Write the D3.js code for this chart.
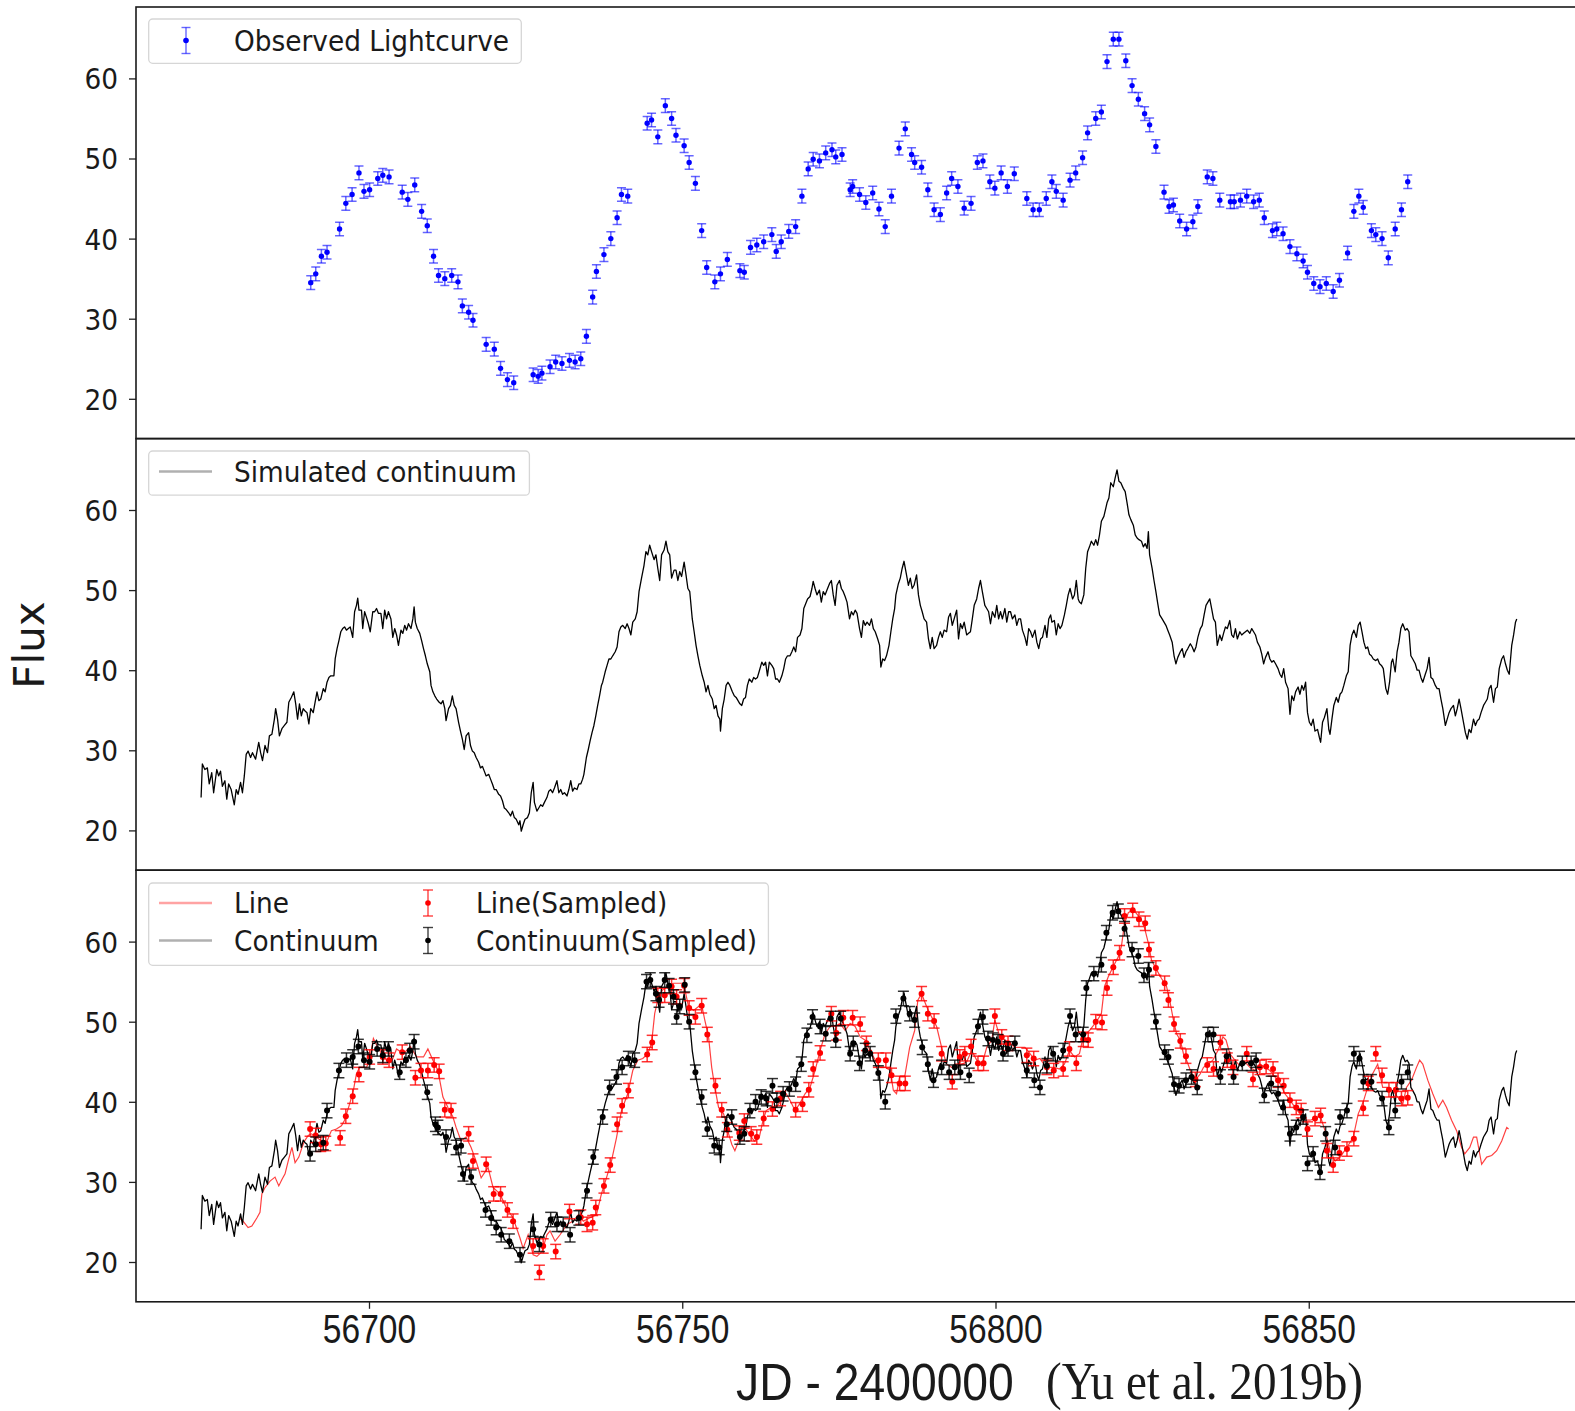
<!DOCTYPE html>
<html lang="en">
<head>
<meta charset="UTF-8">
<title>Observed and simulated lightcurves</title>
<script src="https://d3js.org/d3.v7.min.js"></script>
<style>
  body { margin: 0; background: #fff; }
  svg text { font-family: "DejaVu Sans", sans-serif; fill: #1a1a1a; }
</style>
</head>
<body>
<svg id="chart" width="1575" height="1411"></svg>
<script>
// ---- data (day = JD - 2400000) ----
const observed = [[56690.7,34.5],[56691.5,35.6],[56692.4,37.8],[56693.3,38.3],[56695.3,41.2],[56696.3,44.4],[56697.3,45.5],[56698.4,48.2],[56699.2,45.9],[56700.1,46.1],[56701.4,47.5],[56702.2,47.9],[56703.2,47.7],[56705.3,45.8],[56706.2,44.9],[56707.3,46.7],[56708.4,43.4],[56709.3,41.6],[56710.3,37.8],[56711.1,35.4],[56712.1,35.0],[56713.2,35.4],[56714.2,34.6],[56714.9,31.6],[56715.9,30.8],[56716.6,29.8],[56718.7,26.8],[56720.0,26.2],[56721.0,23.8],[56722.1,22.4],[56723.1,22.0],[56726.2,23.0],[56727.0,22.8],[56727.6,23.2],[56728.9,24.0],[56729.8,24.6],[56730.8,24.4],[56732.0,24.8],[56732.9,24.6],[56733.8,25.0],[56734.7,27.8],[56735.7,32.7],[56736.3,35.9],[56737.5,38.0],[56738.6,40.0],[56739.6,42.6],[56740.3,45.5],[56741.3,45.3],[56744.4,54.4],[56745.1,54.8],[56746.1,52.7],[56747.3,56.6],[56748.3,55.0],[56749.0,52.9],[56750.3,51.6],[56751.1,49.5],[56752.1,46.9],[56753.1,41.0],[56753.9,36.4],[56755.2,34.6],[56756.1,35.6],[56757.2,37.4],[56759.2,36.0],[56759.9,35.8],[56760.9,38.9],[56761.9,39.2],[56763.0,39.6],[56764.3,40.5],[56765.0,38.4],[56765.8,39.6],[56767.0,40.9],[56768.1,41.5],[56769.1,45.3],[56770.1,48.7],[56770.9,49.9],[56771.9,49.7],[56772.9,50.7],[56773.9,51.1],[56774.5,50.2],[56775.5,50.5],[56776.8,46.1],[56777.2,46.5],[56778.3,45.5],[56779.3,44.5],[56780.4,45.7],[56781.4,43.7],[56782.4,41.5],[56783.4,45.3],[56784.6,51.3],[56785.6,53.7],[56786.6,50.5],[56787.1,49.5],[56788.2,48.9],[56789.2,46.1],[56790.2,43.6],[56791.2,43.0],[56792.2,45.7],[56793.0,47.5],[56794.0,46.5],[56795.0,43.8],[56796.1,44.4],[56797.1,49.5],[56798.0,49.7],[56799.1,47.1],[56799.9,46.3],[56800.9,48.2],[56801.9,46.5],[56803.0,48.1],[56805.0,45.0],[56806.0,43.6],[56807.0,43.6],[56808.1,45.0],[56809.0,47.1],[56809.7,45.9],[56810.8,44.8],[56811.9,47.3],[56812.8,48.2],[56813.9,50.1],[56814.7,53.2],[56816.0,55.0],[56816.9,55.8],[56817.8,62.1],[56818.8,64.9],[56819.7,64.9],[56820.8,62.2],[56821.8,59.1],[56822.8,57.4],[56823.8,55.6],[56824.6,54.2],[56825.6,51.5],[56826.9,45.8],[56827.7,44.0],[56828.4,44.2],[56829.4,42.2],[56830.5,41.2],[56831.5,42.1],[56832.3,44.0],[56833.8,47.7],[56834.7,47.5],[56835.8,44.8],[56837.5,44.6],[56838.1,44.6],[56839.1,44.8],[56840.1,45.3],[56841.2,44.6],[56842.1,44.8],[56842.9,42.6],[56844.2,41.0],[56844.9,41.2],[56845.9,40.6],[56847.0,39.0],[56848.1,38.1],[56849.1,37.2],[56849.8,35.8],[56850.8,34.4],[56851.8,34.0],[56852.8,34.4],[56853.9,33.4],[56854.9,34.8],[56856.2,38.2],[56857.2,43.4],[56858.0,45.3],[56858.7,43.9],[56860.0,41.0],[56860.7,40.5],[56861.7,40.0],[56862.7,37.6],[56863.8,41.2],[56864.8,43.6],[56865.8,47.1]];

const continuum = [[56673.2,24.1],[56673.4,28.3],[56673.8,27.6],[56674.2,27.8],[56674.5,25.8],[56674.9,27.2],[56675.2,24.7],[56675.7,27.6],[56676.0,26.8],[56676.3,27.4],[56676.6,25.5],[56677.0,26.2],[56677.3,23.9],[56677.6,25.8],[56678.0,25.1],[56678.5,23.2],[56678.8,25.1],[56679.1,24.5],[56679.5,26.0],[56679.8,24.7],[56680.1,26.8],[56680.4,29.5],[56680.7,29.9],[56681.1,29.1],[56681.4,29.7],[56681.9,28.9],[56682.4,31.0],[56682.7,29.7],[56683.0,28.7],[56683.4,30.6],[56683.8,29.7],[56684.1,31.8],[56684.5,32.0],[56684.9,33.9],[56685.1,35.2],[56685.4,33.9],[56685.7,31.8],[56686.1,32.7],[56686.5,33.1],[56686.9,33.5],[56687.2,36.0],[56687.6,36.6],[56688.0,37.3],[56688.3,35.8],[56688.6,33.9],[56688.9,35.8],[56689.2,34.3],[56689.5,35.2],[56689.8,34.9],[56690.1,34.7],[56690.4,33.3],[56690.7,35.2],[56691.1,34.7],[56691.4,36.0],[56691.7,37.3],[56692.0,36.2],[56692.3,36.4],[56692.7,37.7],[56693.0,37.3],[56693.3,38.5],[56693.6,39.1],[56693.9,39.3],[56694.4,39.3],[56694.6,41.4],[56694.9,42.7],[56695.2,43.7],[56695.5,44.8],[56695.8,45.2],[56696.1,45.4],[56696.4,45.0],[56696.7,45.2],[56697.0,45.4],[56697.4,44.1],[56697.7,47.3],[56698.0,48.1],[56698.2,49.0],[56698.4,47.5],[56698.8,47.5],[56699.0,45.2],[56699.3,47.3],[56699.6,46.6],[56699.9,45.8],[56700.2,44.8],[56700.6,47.3],[56700.9,47.3],[56701.2,47.7],[56701.5,47.1],[56701.9,47.1],[56702.2,45.2],[56702.5,47.5],[56702.8,46.4],[56703.1,47.3],[56703.5,46.4],[56703.8,44.1],[56704.1,45.2],[56704.4,44.4],[56704.7,43.1],[56705.1,45.0],[56705.4,44.6],[56705.7,45.6],[56706.0,45.0],[56706.3,45.8],[56706.7,45.2],[56707.0,46.4],[56707.2,47.9],[56707.4,46.0],[56707.7,45.2],[56708.1,44.6],[56708.4,43.7],[56708.7,42.7],[56709.0,41.8],[56709.3,40.8],[56709.7,39.8],[56709.9,38.1],[56710.2,37.3],[56710.5,36.8],[56710.8,36.4],[56711.2,36.0],[56711.5,35.8],[56711.8,36.2],[56712.1,35.2],[56712.3,33.7],[56712.7,35.2],[56713.0,35.6],[56713.3,36.8],[56713.6,35.6],[56713.9,35.2],[56714.3,33.5],[56714.6,32.4],[56714.9,31.4],[56715.2,30.1],[56715.5,31.8],[56715.9,32.2],[56716.2,30.6],[56716.5,29.9],[56716.8,29.7],[56717.1,29.1],[56717.5,28.5],[56717.8,27.8],[56718.1,28.0],[56718.4,27.4],[56718.7,26.8],[56719.1,27.0],[56719.4,26.4],[56719.7,25.8],[56720.0,25.1],[56720.3,25.1],[56720.7,24.5],[56721.0,24.3],[56721.3,23.7],[56721.6,22.8],[56721.9,22.6],[56722.3,22.2],[56722.6,21.8],[56722.9,22.4],[56723.2,21.6],[56723.5,21.4],[56723.9,20.7],[56724.1,21.2],[56724.3,19.9],[56724.6,20.7],[56724.9,21.4],[56725.3,21.6],[56725.6,22.2],[56725.9,24.7],[56726.2,26.0],[56726.4,23.5],[56726.8,22.4],[56727.1,22.8],[56727.4,23.2],[56727.7,23.0],[56728.0,23.5],[56728.4,24.1],[56728.7,24.9],[56729.0,25.1],[56729.3,24.7],[56729.6,25.3],[56730.0,26.2],[56730.3,24.7],[56730.6,25.1],[56730.9,24.5],[56731.2,24.7],[56731.6,24.3],[56731.9,25.1],[56732.2,26.2],[56732.5,24.9],[56732.8,25.3],[56733.2,25.1],[56733.5,25.8],[56733.8,25.8],[56734.1,26.4],[56734.3,27.0],[56734.7,29.1],[56735.0,30.1],[56735.3,31.2],[56735.6,32.2],[56735.9,33.1],[56736.2,34.3],[56736.5,35.6],[56736.8,36.8],[56737.1,38.1],[56737.3,38.5],[56737.7,39.8],[56738.0,40.6],[56738.3,41.4],[56738.6,41.4],[56738.9,41.8],[56739.3,42.3],[56739.6,42.9],[56739.9,44.8],[56740.2,45.4],[56740.5,45.6],[56740.9,45.2],[56741.2,45.8],[56741.5,45.2],[56741.8,44.4],[56742.1,46.0],[56742.5,46.4],[56742.8,47.3],[56743.1,49.8],[56743.5,51.5],[56743.9,53.1],[56744.2,54.8],[56744.5,54.4],[56744.8,55.6],[56745.1,54.8],[56745.5,53.8],[56745.8,54.4],[56746.1,52.7],[56746.4,51.2],[56746.7,54.4],[56747.1,55.0],[56747.4,56.1],[56747.7,54.8],[56748.0,54.4],[56748.3,51.5],[56748.7,52.5],[56749.0,52.5],[56749.3,51.2],[56749.6,52.3],[56749.9,51.7],[56750.3,53.5],[56750.6,51.9],[56750.9,50.2],[56751.2,49.8],[56751.6,46.4],[56751.9,44.8],[56752.2,43.1],[56752.5,41.8],[56752.8,40.6],[56753.2,39.3],[56753.5,38.5],[56753.8,37.3],[56754.1,38.1],[56754.4,37.0],[56754.8,36.4],[56755.1,35.2],[56755.4,35.6],[56755.7,34.3],[56756.0,33.9],[56756.1,32.4],[56756.4,35.2],[56756.7,36.4],[56757.0,38.1],[56757.3,38.5],[56757.6,38.1],[56758.0,37.3],[56758.3,36.8],[56758.6,36.6],[56758.9,36.2],[56759.2,35.8],[56759.5,35.6],[56759.8,36.4],[56760.1,36.6],[56760.4,38.1],[56760.7,38.9],[56761.1,38.5],[56761.4,39.1],[56761.7,38.9],[56762.0,39.1],[56762.3,39.9],[56762.7,41.0],[56763.0,40.6],[56763.3,41.0],[56763.6,39.3],[56763.9,41.0],[56764.3,40.6],[56764.6,40.2],[56764.9,38.9],[56765.2,38.9],[56765.5,38.5],[56765.9,39.3],[56766.2,40.2],[56766.5,41.4],[56766.8,41.8],[56767.2,41.8],[56767.5,42.3],[56767.8,42.9],[56768.1,42.3],[56768.4,44.1],[56768.8,44.4],[56769.1,45.2],[56769.4,47.7],[56769.7,48.3],[56770.0,48.9],[56770.4,49.2],[56770.7,50.2],[56770.9,51.1],[56771.2,50.2],[56771.5,49.4],[56771.9,50.0],[56772.2,48.5],[56772.5,49.8],[56772.8,49.4],[56773.1,50.0],[56773.5,50.8],[56773.8,51.2],[56774.1,49.4],[56774.4,48.1],[56774.7,50.6],[56775.1,51.2],[56775.4,50.2],[56775.7,49.8],[56776.0,49.2],[56776.3,48.5],[56776.7,46.4],[56777.0,47.3],[56777.3,46.9],[56777.6,47.5],[56777.9,47.1],[56778.3,45.2],[56778.6,44.1],[56778.9,46.2],[56779.2,45.6],[56779.5,46.0],[56779.9,45.6],[56780.2,46.4],[56780.5,45.2],[56780.8,44.8],[56781.2,43.9],[56781.5,43.1],[56781.7,40.4],[56782.0,41.4],[56782.3,41.2],[56782.6,41.8],[56783.0,43.1],[56783.3,44.8],[56783.6,46.4],[56783.9,47.7],[56784.1,49.4],[56784.5,50.8],[56784.8,51.5],[56785.1,52.7],[56785.4,53.6],[56785.7,52.3],[56786.1,50.6],[56786.4,51.5],[56786.7,50.2],[56787.0,50.6],[56787.4,51.9],[56787.7,49.4],[56788.0,48.1],[56788.3,47.3],[56788.6,46.4],[56789.0,46.0],[56789.3,43.9],[56789.6,42.7],[56789.9,44.1],[56790.2,42.7],[56790.6,43.1],[56790.9,44.1],[56791.2,44.8],[56791.5,44.1],[56791.8,45.0],[56792.2,44.8],[56792.5,46.6],[56792.8,47.1],[56793.1,45.6],[56793.4,46.4],[56793.8,47.5],[56794.1,43.9],[56794.4,45.8],[56794.7,45.2],[56795.0,46.0],[56795.4,44.4],[56795.7,44.6],[56796.0,44.8],[56796.3,46.4],[56796.6,48.1],[56797.0,48.9],[56797.3,50.2],[56797.6,51.2],[56797.9,49.8],[56798.3,48.1],[56798.6,47.7],[56798.9,47.3],[56799.2,45.8],[56799.5,47.3],[56799.9,46.6],[56800.2,48.1],[56800.5,46.4],[56800.8,47.3],[56801.1,46.4],[56801.5,47.7],[56801.8,46.0],[56802.1,47.3],[56802.4,47.3],[56802.7,46.4],[56803.1,46.9],[56803.4,45.6],[56803.7,46.4],[56804.0,46.4],[56804.3,45.0],[56804.7,44.1],[56805.0,43.1],[56805.3,45.2],[56805.6,44.8],[56805.9,44.1],[56806.3,45.0],[56806.6,43.5],[56806.9,42.7],[56807.2,43.9],[56807.5,44.1],[56807.9,45.6],[56808.2,44.1],[56808.5,46.4],[56808.8,46.9],[56809.0,46.0],[56809.4,46.2],[56809.7,44.4],[56810.0,45.8],[56810.3,45.2],[56810.6,45.6],[56811.0,46.9],[56811.3,48.1],[56811.6,49.4],[56811.9,50.2],[56812.3,48.9],[56812.6,49.4],[56812.9,51.2],[56813.2,48.9],[56813.4,48.5],[56813.7,48.3],[56814.1,49.4],[56814.4,52.7],[56814.7,54.8],[56815.0,55.4],[56815.3,56.1],[56815.7,55.6],[56816.0,56.3],[56816.3,55.6],[56816.6,56.9],[56816.9,58.6],[56817.3,59.2],[56817.6,60.2],[56817.8,60.9],[56818.1,61.5],[56818.4,63.4],[56818.8,62.9],[56819.1,64.0],[56819.4,65.0],[56819.7,63.6],[56820.0,63.4],[56820.4,62.7],[56820.7,62.3],[56821.0,60.9],[56821.3,59.4],[56821.6,58.8],[56822.0,58.1],[56822.3,56.9],[56822.6,56.5],[56822.9,56.3],[56823.3,56.1],[56823.6,55.4],[56823.9,55.8],[56824.2,55.2],[56824.4,57.3],[56824.6,54.4],[56825.0,52.7],[56825.3,51.2],[56825.6,49.8],[56825.9,48.3],[56826.2,46.9],[56826.6,46.4],[56826.9,46.0],[56827.2,45.6],[56827.5,45.0],[56827.8,44.4],[56828.2,43.5],[56828.5,41.8],[56828.8,40.8],[56829.1,41.6],[56829.5,42.3],[56829.8,42.7],[56830.1,41.6],[56830.4,42.3],[56830.7,42.7],[56831.1,43.3],[56831.4,42.9],[56831.7,42.3],[56832.0,42.9],[56832.3,44.1],[56832.7,45.2],[56833.0,45.6],[56833.3,46.9],[56833.6,48.1],[56833.9,48.5],[56834.2,48.9],[56834.5,47.7],[56834.8,46.4],[56835.1,46.0],[56835.4,43.1],[56835.8,44.4],[56836.1,43.7],[56836.4,44.6],[56836.7,45.4],[56837.0,45.2],[56837.4,46.2],[56837.7,44.4],[56838.0,44.1],[56838.3,45.2],[56838.6,43.9],[56839.0,44.8],[56839.3,44.4],[56839.6,44.6],[56839.9,44.8],[56840.2,45.0],[56840.6,44.6],[56840.9,45.2],[56841.2,44.8],[56841.5,44.4],[56841.8,43.5],[56842.2,42.9],[56842.5,42.0],[56842.8,40.8],[56843.1,41.6],[56843.5,42.3],[56843.8,41.4],[56844.1,41.0],[56844.4,41.2],[56844.7,40.8],[56845.1,40.2],[56845.4,39.5],[56845.7,39.1],[56846.0,40.2],[56846.3,38.5],[56846.7,37.7],[56847.0,34.5],[56847.3,36.8],[56847.6,36.2],[56847.9,37.3],[56848.3,37.9],[56848.6,37.0],[56848.9,38.1],[56849.2,37.5],[56849.5,38.5],[56849.8,34.7],[56850.1,33.5],[56850.4,33.1],[56850.7,33.9],[56851.0,32.4],[56851.4,32.6],[56851.7,31.6],[56851.9,31.0],[56852.2,33.5],[56852.5,34.1],[56852.9,35.2],[56853.2,32.6],[56853.4,32.0],[56853.7,33.9],[56854.0,35.6],[56854.4,36.6],[56854.7,36.0],[56855.0,37.0],[56855.3,37.3],[56855.6,38.1],[56856.0,39.3],[56856.3,39.8],[56856.6,43.1],[56856.9,44.4],[56857.2,45.0],[56857.6,44.1],[56857.9,45.6],[56858.2,46.0],[56858.5,44.8],[56858.8,43.5],[56859.1,42.7],[56859.4,42.9],[56859.7,42.0],[56860.0,41.8],[56860.3,41.4],[56860.7,41.2],[56861.0,41.4],[56861.3,40.8],[56861.6,40.6],[56861.9,40.2],[56862.3,37.7],[56862.6,37.0],[56862.9,38.5],[56863.2,41.0],[56863.4,41.4],[56863.8,39.8],[56864.1,42.3],[56864.4,43.5],[56864.7,45.2],[56865.0,45.8],[56865.4,45.0],[56865.7,45.2],[56866.0,44.8],[56866.3,41.8],[56866.6,41.4],[56867.0,40.8],[56867.3,40.0],[56867.6,40.0],[56867.9,39.1],[56868.2,38.5],[56868.6,39.5],[56868.9,40.2],[56869.2,41.6],[56869.5,39.1],[56869.8,38.9],[56870.2,38.1],[56870.5,37.7],[56870.8,37.7],[56871.1,36.4],[56871.4,35.2],[56871.8,33.1],[56872.1,33.9],[56872.4,34.7],[56872.7,35.2],[56873.1,35.6],[56873.4,34.3],[56873.7,35.2],[56874.0,36.4],[56874.3,35.2],[56874.7,33.5],[56875.0,32.2],[56875.3,31.4],[56875.6,32.6],[56875.9,32.2],[56876.3,33.9],[56876.6,33.1],[56876.9,33.7],[56877.2,33.9],[56877.5,34.7],[56877.9,35.6],[56878.2,36.0],[56878.5,36.4],[56878.8,37.7],[56879.1,38.1],[56879.5,36.0],[56879.8,37.7],[56880.1,37.9],[56880.4,40.2],[56880.8,41.4],[56881.1,41.8],[56881.4,40.8],[56881.7,40.0],[56882.0,39.5],[56882.4,43.1],[56882.7,44.4],[56883.0,46.0],[56883.2,46.4]];

const lineCurve = [[56679.3,25.5],[56679.9,25.1],[56680.7,24.3],[56681.3,24.5],[56682.1,25.5],[56682.6,26.2],[56682.9,28.5],[56683.4,29.3],[56684.2,30.1],[56685.0,30.6],[56685.6,29.5],[56686.1,30.3],[56686.6,31.0],[56687.2,32.9],[56687.7,34.3],[56688.2,32.4],[56688.8,33.1],[56689.3,34.3],[56689.7,35.1],[56690.3,35.8],[56690.8,36.0],[56691.6,35.6],[56692.4,35.1],[56693.2,34.9],[56694.0,36.4],[56694.8,36.6],[56695.6,37.0],[56696.1,37.7],[56696.9,39.7],[56697.5,41.4],[56698.0,43.5],[56698.5,44.3],[56699.6,44.3],[56700.1,45.2],[56700.7,47.9],[56701.2,47.1],[56702.0,46.0],[56702.8,45.2],[56703.6,45.0],[56704.4,46.6],[56705.5,46.0],[56706.6,46.9],[56707.6,45.6],[56708.7,45.6],[56709.4,46.6],[56710.2,45.2],[56711.0,43.9],[56711.8,40.6],[56712.6,39.3],[56713.4,38.1],[56713.9,36.8],[56714.7,35.1],[56715.5,35.6],[56716.3,34.3],[56717.1,32.6],[56717.9,30.5],[56719.0,31.8],[56719.8,29.3],[56720.9,28.5],[56721.9,26.8],[56723.0,25.5],[56724.1,23.0],[56724.6,21.7],[56725.4,23.4],[56726.2,20.9],[56726.8,20.7],[56727.6,21.3],[56728.4,23.4],[56728.9,23.9],[56729.7,22.6],[56730.5,23.4],[56731.6,24.7],[56732.6,25.1],[56733.4,25.9],[56734.2,25.1],[56735.2,25.5],[56736.3,25.9],[56737.1,28.5],[56737.9,30.5],[56738.7,32.6],[56739.5,35.5],[56740.3,38.9],[56741.3,41.0],[56742.1,43.9],[56742.9,45.2],[56743.7,45.4],[56744.5,46.0],[56745.1,47.3],[56745.6,51.0],[56746.2,53.1],[56746.9,54.0],[56747.8,54.4],[56748.6,54.8],[56749.4,54.8],[56750.2,54.8],[56751.0,51.9],[56751.8,51.4],[56752.6,51.9],[56753.1,52.1],[56753.6,50.2],[56754.2,48.1],[56754.7,44.3],[56755.2,41.8],[56755.8,39.3],[56756.6,38.5],[56757.4,36.0],[56757.9,34.7],[56758.4,33.9],[56759.0,35.1],[56759.5,36.8],[56759.9,36.8],[56760.7,36.0],[56761.5,35.1],[56762.3,35.6],[56762.9,37.7],[56763.4,38.9],[56764.2,39.3],[56765.0,39.3],[56765.8,40.2],[56766.6,41.0],[56767.2,40.2],[56768.0,38.9],[56768.7,39.7],[56769.6,41.0],[56770.4,41.8],[56771.2,43.9],[56772.0,46.4],[56772.8,48.5],[56773.6,49.4],[56774.4,49.4],[56775.2,49.8],[56776.0,48.9],[56776.8,49.8],[56777.6,49.4],[56778.4,48.1],[56779.2,47.7],[56780.0,46.4],[56780.8,45.2],[56781.6,44.3],[56782.4,44.3],[56783.2,43.9],[56783.7,41.4],[56784.2,41.0],[56784.7,43.1],[56785.5,43.1],[56786.3,46.8],[56787.1,48.9],[56787.6,52.7],[56788.2,53.5],[56789.0,51.9],[56789.8,50.6],[56790.6,49.4],[56791.4,46.8],[56792.2,44.7],[56793.0,44.3],[56793.8,44.3],[56794.6,44.7],[56795.4,45.0],[56796.2,46.4],[56797.0,45.2],[56797.8,44.5],[56798.6,46.8],[56799.4,47.7],[56799.9,50.2],[56800.7,48.1],[56801.5,47.7],[56802.3,47.3],[56803.1,46.8],[56803.9,46.8],[56804.7,46.8],[56805.5,46.0],[56806.3,45.2],[56807.1,45.4],[56807.9,44.5],[56808.7,44.3],[56809.4,44.3],[56810.2,44.1],[56811.0,44.7],[56811.8,46.4],[56812.6,45.6],[56813.4,46.0],[56814.0,48.1],[56815.0,48.9],[56816.1,50.0],[56816.9,51.0],[56817.4,54.4],[56818.0,55.6],[56818.8,56.9],[56819.6,58.1],[56820.1,59.4],[56820.6,62.3],[56821.2,63.6],[56822.0,64.0],[56822.8,63.2],[56823.6,62.3],[56824.4,59.8],[56824.9,57.7],[56825.7,56.5],[56826.5,55.4],[56827.3,54.4],[56827.8,52.7],[56828.4,50.2],[56828.9,48.5],[56829.5,47.7],[56830.0,46.0],[56830.5,45.2],[56831.1,43.9],[56831.9,42.7],[56832.7,43.5],[56833.2,44.3],[56833.9,44.7],[56834.7,45.2],[56835.5,46.4],[56836.3,48.1],[56836.8,47.7],[56837.4,46.0],[56838.2,45.2],[56839.0,44.5],[56839.8,45.0],[56840.6,44.3],[56841.4,43.9],[56842.2,44.7],[56843.0,44.3],[56843.8,43.9],[56844.6,43.1],[56845.4,42.3],[56846.2,41.0],[56847.0,40.2],[56847.8,39.3],[56848.6,38.5],[56849.4,37.7],[56850.2,37.7],[56851.0,37.9],[56851.8,38.3],[56852.6,36.4],[56853.4,33.9],[56854.2,32.6],[56855.0,33.1],[56856.1,34.3],[56857.1,35.6],[56857.9,38.5],[56858.7,40.0],[56859.4,41.8],[56860.2,43.5],[56861.0,44.7],[56861.8,41.8],[56862.6,41.8],[56863.4,41.4],[56864.2,40.6],[56865.0,39.7],[56865.6,41.8],[56866.4,42.7],[56867.2,44.3],[56867.7,45.2],[56868.2,44.7],[56869.0,42.7],[56869.8,41.0],[56870.7,39.3],[56871.4,40.2],[56872.0,39.3],[56872.8,37.7],[56873.6,36.4],[56874.4,34.3],[56874.9,33.5],[56875.7,34.3],[56876.3,35.6],[56876.8,35.6],[56877.6,32.2],[56878.4,33.1],[56879.2,33.3],[56880.0,33.9],[56880.8,35.1],[56881.6,36.8],[56881.9,36.6]];

const lineSampled = [[56690.6,36.6],[56691.5,35.8],[56692.3,34.7],[56693.1,34.8],[56695.4,35.5],[56696.3,38.2],[56697.4,40.7],[56698.4,43.4],[56700.1,45.6],[56702.2,45.6],[56703.2,45.2],[56705.3,46.2],[56707.4,43.0],[56708.3,43.9],[56709.4,43.9],[56710.4,44.6],[56711.2,43.8],[56712.1,39.0],[56713.1,38.9],[56715.9,36.0],[56716.6,32.6],[56718.7,32.2],[56719.9,28.5],[56721.0,28.5],[56722.1,26.5],[56723.0,25.1],[56726.2,22.0],[56727.2,18.7],[56727.8,22.0],[56729.8,21.3],[56732.0,26.3],[56733.8,25.6],[56734.8,24.7],[56735.7,24.9],[56736.2,26.8],[56737.5,29.5],[56738.5,32.1],[56739.6,37.2],[56740.4,39.5],[56741.4,41.4],[56744.4,45.9],[56745.2,47.4],[56746.1,53.3],[56747.2,53.3],[56748.3,54.4],[56749.1,53.1],[56750.3,54.5],[56751.1,51.7],[56752.1,50.6],[56753.1,52.0],[56754.0,48.4],[56755.3,42.0],[56756.3,39.0],[56757.2,36.5],[56759.1,36.1],[56759.9,37.6],[56761.0,36.0],[56761.9,35.6],[56763.0,37.9],[56764.4,39.1],[56765.7,40.4],[56768.1,39.0],[56769.2,39.7],[56770.2,41.5],[56770.9,44.1],[56772.0,46.1],[56773.8,51.0],[56774.6,48.6],[56775.7,50.5],[56777.2,50.5],[56778.4,49.7],[56779.4,47.3],[56781.3,45.2],[56782.5,45.2],[56783.4,43.3],[56784.7,42.3],[56785.6,42.3],[56788.2,53.5],[56789.2,51.0],[56790.2,50.1],[56791.4,46.0],[56793.1,42.5],[56794.3,45.6],[56795.1,46.0],[56796.1,46.9],[56797.2,44.8],[56798.1,44.8],[56799.9,50.7],[56801.0,48.1],[56802.0,47.3],[56805.0,45.8],[56806.1,45.4],[56808.2,44.3],[56809.3,43.9],[56810.8,44.1],[56811.8,46.6],[56812.9,44.8],[56814.0,47.8],[56814.8,47.7],[56816.0,50.0],[56817.0,49.9],[56817.8,54.2],[56818.8,56.8],[56819.8,58.6],[56820.6,63.2],[56821.9,63.9],[56822.9,62.8],[56823.9,62.3],[56824.5,59.0],[56825.6,56.7],[56827.0,54.8],[56827.6,52.7],[56828.5,49.7],[56829.5,47.6],[56830.4,45.7],[56831.9,42.8],[56833.8,44.6],[56834.8,44.1],[56835.9,47.4],[56837.0,45.2],[56837.9,44.3],[56840.1,46.0],[56841.1,42.8],[56842.2,44.3],[56843.2,44.4],[56844.3,44.1],[56845.1,42.7],[56846.0,42.0],[56847.0,40.2],[56848.0,39.3],[56848.8,38.9],[56849.8,36.6],[56851.0,37.9],[56851.9,38.3],[56852.9,33.9],[56853.9,32.1],[56854.9,33.6],[56856.1,34.1],[56857.2,35.4],[56858.7,39.2],[56859.5,42.3],[56860.7,46.0],[56861.7,43.3],[56862.8,41.5],[56863.9,41.5],[56864.8,40.4],[56865.8,40.5]];

const contSampled = [[56690.6,33.5],[56691.5,34.7],[56692.7,34.9],[56693.3,38.9],[56695.2,43.9],[56696.4,45.2],[56697.4,45.6],[56698.3,46.9],[56699.2,45.2],[56700.1,45.0],[56701.3,46.6],[56702.2,45.8],[56703.1,46.6],[56704.9,43.7],[56705.9,45.2],[56706.5,46.4],[56707.2,47.5],[56709.3,41.2],[56710.6,37.2],[56711.0,36.8],[56712.3,35.6],[56713.9,34.3],[56714.7,34.5],[56715.0,31.0],[56716.3,30.6],[56718.6,26.5],[56719.5,25.5],[56720.3,24.3],[56721.1,23.4],[56722.4,22.6],[56724.1,20.9],[56726.2,24.1],[56727.2,22.2],[56729.0,25.3],[56730.0,24.7],[56731.0,24.7],[56732.1,23.4],[56733.5,25.5],[56734.8,28.9],[56735.8,33.1],[56737.3,38.1],[56738.4,41.8],[56739.5,43.1],[56740.4,44.3],[56741.4,45.4],[56742.4,45.2],[56744.3,55.0],[56744.9,55.2],[56745.8,53.5],[56746.3,52.7],[56747.2,55.2],[56747.9,54.5],[56748.6,53.1],[56749.1,50.6],[56749.6,51.9],[56750.4,54.6],[56751.1,50.0],[56752.1,43.7],[56753.1,40.6],[56754.0,36.6],[56755.1,34.5],[56755.9,34.3],[56757.1,37.2],[56757.9,38.1],[56759.2,35.6],[56759.9,36.0],[56760.8,38.9],[56761.7,40.0],[56762.6,40.6],[56763.4,40.4],[56764.4,42.0],[56765.1,40.2],[56766.1,41.0],[56767.1,41.6],[56768.1,42.2],[56769.0,44.7],[56769.9,48.3],[56770.8,50.6],[56772.0,49.4],[56772.9,48.5],[56773.7,50.4],[56774.5,47.7],[56775.3,50.4],[56776.8,46.0],[56777.3,47.3],[56778.3,44.8],[56779.2,46.4],[56780.0,46.0],[56781.3,43.6],[56782.4,40.0],[56784.1,50.7],[56785.3,52.9],[56786.3,51.0],[56787.1,50.2],[56788.3,46.8],[56789.2,44.7],[56790.1,42.7],[56791.4,44.3],[56792.6,43.7],[56793.5,44.3],[56794.4,43.7],[56795.8,43.3],[56797.2,49.4],[56798.0,50.6],[56798.8,47.9],[56799.6,47.7],[56800.4,47.5],[56801.2,46.0],[56802.0,46.6],[56803.1,47.3],[56805.0,43.9],[56806.2,42.7],[56807.1,41.8],[56808.2,44.5],[56809.2,46.0],[56810.8,46.4],[56811.9,50.7],[56812.8,48.4],[56814.0,48.4],[56814.5,54.2],[56815.7,56.0],[56816.9,57.1],[56817.7,61.1],[56818.7,63.6],[56819.6,63.8],[56820.6,61.6],[56821.8,59.0],[56822.8,58.2],[56823.7,55.8],[56824.5,56.5],[56825.6,50.0],[56827.0,46.2],[56827.6,45.6],[56828.5,42.2],[56829.3,42.0],[56830.4,42.7],[56831.3,43.1],[56832.2,41.8],[56833.9,48.4],[56834.8,48.4],[56835.9,43.1],[56836.9,45.7],[56838.0,43.1],[56839.4,44.8],[56840.8,44.8],[56841.6,45.2],[56842.9,40.8],[56844.0,42.3],[56845.1,41.0],[56845.9,39.3],[56847.0,36.0],[56848.0,36.8],[56849.1,38.1],[56849.8,32.3],[56850.7,33.5],[56851.8,31.2],[56852.7,36.0],[56854.2,34.3],[56855.0,38.1],[56856.1,38.9],[56857.2,46.0],[56858.1,45.4],[56858.7,42.5],[56860.0,42.5],[56861.7,40.4],[56862.8,36.8],[56863.8,38.9],[56864.8,42.5],[56865.8,43.7]];

const obsErr = 0.85;   // typical 1-sigma bar of the observed points
const sampErr = 0.9;   // typical bar of the sampled points
const yTicks = [20, 30, 40, 50, 60];
const xTicks = [56700, 56750, 56800, 56850];

// ---- layout ----
const svg = d3.select('#chart');
const left = 136, right = 1584;
const panelTops = [7, 438.6, 870.2];
const panelH = 431.6;

const x = d3.scaleLinear().domain([56700, 56850]).range([369, 1308.75]);
const yFor = top => d3.scaleLinear().domain([20, 60]).range([top + 391.8, top + 71.4]);

function drawErrorbars(g, data, y, err, color, r, cap, barOpacity) {
    const pts = g.append('g').selectAll('g').data(data).enter().append('g');
    pts.append('line')
        .attr('x1', d => x(d[0])).attr('x2', d => x(d[0]))
        .attr('y1', d => y(d[1] - err)).attr('y2', d => y(d[1] + err))
        .attr('stroke', color).attr('stroke-opacity', barOpacity).attr('stroke-width', 1.5);
    [-err, err].forEach(e => {
        pts.append('line')
            .attr('x1', d => x(d[0]) - cap).attr('x2', d => x(d[0]) + cap)
            .attr('y1', d => y(d[1] + e)).attr('y2', d => y(d[1] + e))
            .attr('stroke', color).attr('stroke-opacity', barOpacity).attr('stroke-width', 1.5);
    });
    pts.append('circle')
        .attr('cx', d => x(d[0])).attr('cy', d => y(d[1]))
        .attr('r', r).attr('fill', color);
}

function drawPanel(i) {
    const top = panelTops[i];
    const y = yFor(top);
    const g = svg.append('g');

    g.append('clipPath').attr('id', 'clip' + i)
        .append('rect').attr('x', left).attr('y', top).attr('width', right - left).attr('height', panelH);
    const plot = g.append('g').attr('clip-path', `url(#clip${i})`);

    const line = d3.line().x(d => x(d[0])).y(d => y(d[1]));

    if (i === 0) {
        drawErrorbars(plot, observed, y, obsErr, '#0000ff', 2.7, 4.5, 0.6);
    } else if (i === 1) {
        plot.append('path').datum(continuum).attr('d', line)
            .attr('fill', 'none').attr('stroke', '#000').attr('stroke-width', 1.3)
            .attr('stroke-linejoin', 'round');
    } else {
        plot.append('path').datum(lineCurve).attr('d', line)
            .attr('fill', 'none').attr('stroke', '#ff0000').attr('stroke-opacity', 0.75).attr('stroke-width', 1.2);
        plot.append('path').datum(continuum).attr('d', line)
            .attr('fill', 'none').attr('stroke', '#000').attr('stroke-width', 1.3)
            .attr('stroke-linejoin', 'round');
        drawErrorbars(plot, lineSampled, y, sampErr, '#ff0000', 3, 5.5, 0.8);
        drawErrorbars(plot, contSampled, y, sampErr, '#000000', 3, 5.5, 0.8);
    }

    // y axis
    const ax = g.append('g').attr('transform', `translate(${left},0)`)
        .call(d3.axisLeft(y).tickValues(yTicks).tickSize(7).tickFormat(d3.format('d')));
    ax.select('.domain').remove();
    ax.selectAll('.tick line').attr('stroke', '#222').attr('stroke-width', 1.3);
    ax.selectAll('.tick text')
        .attr('x', 0).attr('dy', '0.36em')
        .attr('transform', 'translate(-18,0) scale(0.91,1)')
        .style('font-family', '"DejaVu Sans", sans-serif').style('font-size', '29px').attr('fill', '#1a1a1a');

    // frame
    g.append('rect').attr('x', left).attr('y', top).attr('width', right - left).attr('height', panelH)
        .attr('fill', 'none').attr('stroke', '#1a1a1a').attr('stroke-width', 1.6);
}

[0, 1, 2].forEach(drawPanel);

// bottom x axis
const xAxisY = panelTops[2] + panelH;
const xa = svg.append('g').attr('transform', `translate(0,${xAxisY})`)
    .call(d3.axisBottom(x).tickValues(xTicks).tickSize(7).tickFormat(d3.format('d')));
xa.select('.domain').remove();
xa.selectAll('.tick line').attr('stroke', '#222').attr('stroke-width', 1.3);
xa.selectAll('.tick text')
    .attr('y', 0).attr('dy', 0)
    .attr('transform', 'translate(0,41) scale(0.84,1)')
    .style('font-family', '"Liberation Sans", sans-serif').style('font-size', '40px').attr('fill', '#1a1a1a');

// ---- legends ----
function legendBox(x0, y0, w, h) {
    svg.append('rect').attr('x', x0).attr('y', y0).attr('width', w).attr('height', h)
        .attr('rx', 4).attr('fill', '#fff').attr('fill-opacity', 0.85)
        .attr('stroke', '#d6d6d6').attr('stroke-width', 1.3);
}
function legendText(x0, yc, txt) {
    svg.append('text').attr('transform', `translate(${x0},${yc}) scale(0.91,1)`)
        .attr('dy', '0.36em').style('font-size', '29px').text(txt);
}
function legendLine(yc, color) {
    svg.append('line').attr('x1', 159).attr('x2', 212).attr('y1', yc).attr('y2', yc)
        .attr('stroke', color).attr('stroke-width', 2.6);
}
function legendErr(xc, yc, color, cap, opacity) {
    const g = svg.append('g');
    g.append('line').attr('x1', xc).attr('x2', xc).attr('y1', yc - 13).attr('y2', yc + 13)
        .attr('stroke', color).attr('stroke-opacity', opacity).attr('stroke-width', 1.4);
    [-13, 13].forEach(o => g.append('line').attr('x1', xc - cap).attr('x2', xc + cap)
        .attr('y1', yc + o).attr('y2', yc + o).attr('stroke', color).attr('stroke-opacity', opacity).attr('stroke-width', 1.4));
    g.append('circle').attr('cx', xc).attr('cy', yc).attr('r', 2.8).attr('fill', color);
}

legendBox(148.7, 19, 372.6, 44.3);
legendErr(186, 40.5, '#0000ff', 4.5, 0.6);
legendText(234, 40.5, 'Observed Lightcurve');

legendBox(148.7, 451, 380.7, 44.2);
legendLine(471.5, '#b0b0b0');
legendText(234, 471.5, 'Simulated continuum');

legendBox(148.7, 883, 619.7, 82.3);
legendLine(903, '#ffa3a3');
legendText(234, 903, 'Line');
legendLine(940.5, '#b0b0b0');
legendText(234, 940.5, 'Continuum');
legendErr(428, 903, '#ff0000', 5, 0.75);
legendText(476, 903, 'Line(Sampled)');
legendErr(428, 940.5, '#000000', 5, 0.75);
legendText(476, 940.5, 'Continuum(Sampled)');

// ---- axis titles ----
svg.append('text').attr('transform', 'translate(44,645) rotate(-90)')
    .attr('text-anchor', 'middle').style('font-size', '42px').attr('fill', '#000').text('Flux');

svg.append('text').attr('transform', 'translate(736,1400) scale(0.89,1)')
    .style('font-family', '"Liberation Sans", sans-serif').style('font-size', '52px').attr('fill', '#000')
    .text('JD - 2400000');
svg.append('text').attr('transform', 'translate(1046,1399) scale(0.89,1)')
    .style('font-family', '"Liberation Serif", serif').style('font-size', '53px').attr('fill', '#000')
    .text('(Yu et al. 2019b)');
</script>
</body>
</html>
